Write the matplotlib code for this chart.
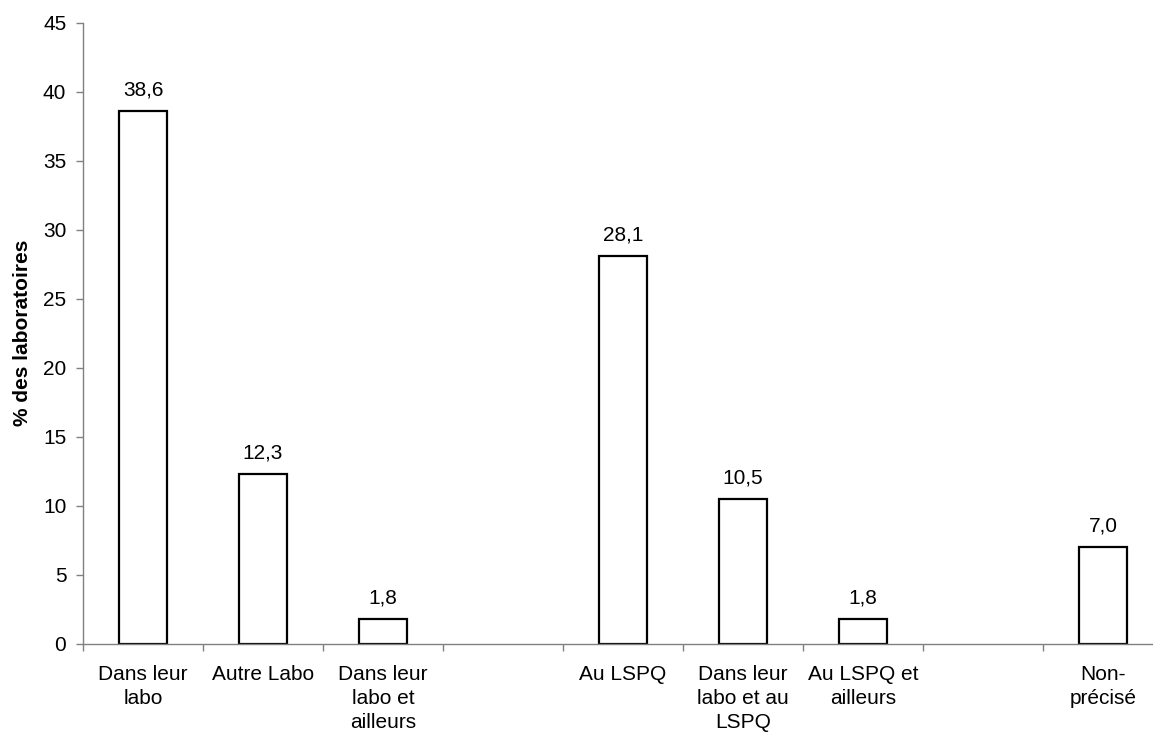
import matplotlib.pyplot as plt
import numpy as np

plt.rcParams["font.family"] = ["Liberation Sans", "DejaVu Sans"]

# categories (empty strings are spacer slots on the axis)
categories = [
    "Dans leur\nlabo",
    "Autre Labo",
    "Dans leur\nlabo et\nailleurs",
    "",
    "Au LSPQ",
    "Dans leur\nlabo et au\nLSPQ",
    "Au LSPQ et\nailleurs",
    "",
    "Non-\nprécisé",
]
values = [38.6, 12.3, 1.8, None, 28.1, 10.5, 1.8, None, 7.0]

fig = plt.figure(figsize=(11.53, 7.36), dpi=100)
ax = fig.add_axes([0.072, 0.1254, 0.9367, 0.8438])

x = np.arange(len(categories))
for xi, v in zip(x, values):
    if v is None:
        continue
    ax.bar(xi, v, width=0.4, facecolor="white", edgecolor="black", linewidth=1.6)
    ax.annotate(f"{v:.1f}".replace(".", ","), (xi, v), xytext=(0, 8),
                textcoords="offset points", ha="center", va="bottom", fontsize=15)

ax.set_xlim(-0.5, len(categories) - 0.5)
ax.set_ylim(0, 45)
ax.set_yticks(np.arange(0, 46, 5))

# tick marks on category boundaries, labels centred under the bars
ax.set_xticks(np.arange(-0.5, len(categories), 1.0))
ax.set_xticklabels([])
ax.set_xticks(x, minor=True)
ax.set_xticklabels(categories, minor=True, fontsize=15, linespacing=1.35)
ax.tick_params(axis="x", which="minor", length=0, pad=15)
ax.tick_params(axis="x", which="major", length=5, width=1, color="#808080", direction="out")
ax.tick_params(axis="y", length=5, width=1, color="#808080", labelsize=15, pad=7)

for side in ("top", "right"):
    ax.spines[side].set_visible(False)
for side in ("left", "bottom"):
    ax.spines[side].set_color("#808080")
    ax.spines[side].set_linewidth(1)

ax.set_ylabel("% des laboratoires", fontsize=15, fontweight="bold", labelpad=8)

fig.savefig("out.png", dpi=100)
